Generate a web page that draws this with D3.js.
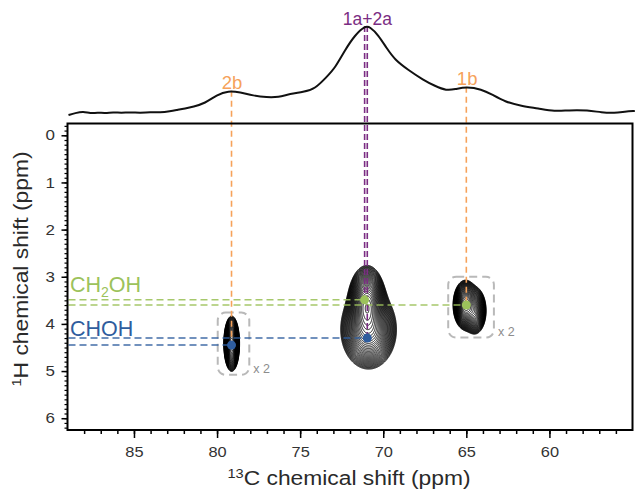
<!DOCTYPE html>
<html>
<head>
<meta charset="utf-8">
<script src="https://cdn.jsdelivr.net/npm/d3@7"></script>
<style>
  body { margin: 0; background: #fff; }
  svg { display: block; }
</style>
</head>
<body>
<svg id="chart" width="635" height="494"></svg>
<script>
// 13C projection on top: chemical shift (ppm) and relative intensity
const specC = [88.94, 88.54, 88.04, 87.63, 87.20, 86.73, 86.25, 85.77, 85.23, 84.63, 84.03, 83.43, 82.82, 82.42,
  81.92, 81.44, 80.72, 80.02, 79.32, 78.62, 77.82, 77.01, 76.31, 75.61, 74.81, 74.11, 73.40, 72.90, 72.30,
  71.70, 71.10, 70.80, 70.30, 69.79, 69.29, 68.49, 67.59, 66.89, 66.19, 65.69, 64.98, 64.08, 63.48, 62.68,
  61.68, 60.68, 59.67, 58.87, 57.67, 56.87, 56.07, 55.46, 54.86];
const specI = [0.000, 0.022, 0.040, 0.018, 0.028, 0.020, 0.032, 0.024, 0.032, 0.024, 0.032, 0.028, 0.042, 0.056,
  0.073, 0.093, 0.131, 0.225, 0.273, 0.255, 0.217, 0.199, 0.199, 0.239, 0.258, 0.292, 0.430, 0.528, 0.730,
  0.899, 1.000, 0.992, 0.899, 0.749, 0.618, 0.506, 0.393, 0.326, 0.273, 0.289, 0.318, 0.289, 0.233, 0.149,
  0.101, 0.075, 0.040, 0.054, 0.054, 0.028, 0.022, 0.037, 0.045];

// assigned sites in the projection
const siteNames = ["1a+2a", "2b", "1b"];
const siteC = [70.95, 79.1, 64.95];
const siteI = [1.0, 0.273, 0.318];

// cross peaks: 13C ppm, 1H ppm, proton group, site
const crossC = [71.12, 65.0, 70.96, 79.13];
const crossH = [3.49, 3.60, 4.30, 4.45];
const crossGroup = ["CH2OH", "CH2OH", "CHOH", "CHOH"];
const crossSite = ["1a+2a", "1b", "1a+2a", "2b"];

// 2D peak components used for the contour map
const peakC = [70.98, 70.88, 79.12, 65.05, 64.50];
const peakH = [3.58, 4.12, 4.42, 3.60, 3.72];
const peakWidthC = [0.42, 0.66, 0.17, 0.27, 0.28];
const peakWidthH = [0.30, 0.33, 0.21, 0.19, 0.20];
const peakAmp = [1.0, 0.6, 1.0, 1.0, 0.45];
const peakSpot = [0, 0, 1, 2, 2];

// magnified regions (x 2)
const boxC = [[79.96, 78.06], [66.09, 63.34]];
const boxH = [[3.76, 5.08], [3.00, 4.29]];
const boxLabel = ["x 2", "x 2"];

// axis ticks
const xMajor = [85, 80, 75, 70, 65, 60];
const xMinor = d3.range(56, 89);
const yMajor = [0, 1, 2, 3, 4, 5, 6];
const yMinor = d3.range(-2, 63).map(d => d / 10);

const colors = {
  "1a+2a": "#7b2d83", "2b": "#f6a25a", "1b": "#f6a25a",
  "CH2OH": "#9cc25b", "CHOH": "#2f5d9e"
};
const font = "'Liberation Sans', Arial, Helvetica, sans-serif";
const stretch = 1.17;

const svg = d3.select("#chart").attr("font-family", font);

// plot frame in pixels
const plot = { left: 67.5, right: 632.5, top: 123.5, bottom: 430 };

const x = d3.scaleLinear().domain([89, 55]).range([plot.left, plot.right]);
const y = d3.scaleLinear().domain([-0.25, 6.25]).range([plot.top, plot.bottom]);
const ys = d3.scaleLinear().domain([0, 1]).range([115, 26]);

// --- contour map ---
const contourG = svg.append("g").attr("class", "contours");
d3.range(3).forEach(s => {
  const idx = peakSpot.map((p, i) => p === s ? i : -1).filter(i => i >= 0);
  const cHi = d3.max(idx, i => peakC[i] + 4 * peakWidthC[i]);
  const cLo = d3.min(idx, i => peakC[i] - 4 * peakWidthC[i]);
  const hLo = d3.min(idx, i => peakH[i] - 4 * peakWidthH[i]);
  const hHi = d3.max(idx, i => peakH[i] + 4 * peakWidthH[i]);
  const dc = 0.015, dh = 0.008;
  const nx = Math.ceil((cHi - cLo) / dc), ny = Math.ceil((hHi - hLo) / dh);
  const vals = new Float64Array(nx * ny);
  for (let j = 0; j < ny; j++) {
    const h = hLo + (j + 0.5) * dh;
    for (let i = 0; i < nx; i++) {
      const c = cHi - (i + 0.5) * dc;
      let v = 0;
      idx.forEach(k => {
        const u = (c - peakC[k]) / peakWidthC[k], w = (h - peakH[k]) / peakWidthH[k];
        v += peakAmp[k] * Math.exp(-0.5 * (u * u + w * w));
      });
      vals[j * nx + i] = v;
    }
  }
  const vmax = d3.max(vals);
  const n = 32, lo = 0.02 * vmax, hi = 0.97 * vmax;
  const levels = d3.range(n).map(i => lo * Math.pow(hi / lo, i / (n - 1)));
  const proj = d3.geoTransform({
    point: function (gx, gy) { this.stream.point(x(cHi - gx * dc), y(hLo + gy * dh)); }
  });
  const path = d3.geoPath(proj);
  contourG.append("g")
    .selectAll("path")
    .data(d3.contours().size([nx, ny]).thresholds(levels)(vals))
    .join("path")
    .attr("d", path)
    .attr("fill", "none")
    .attr("stroke", "#000")
    .attr("stroke-width", 0.95);
});

// --- magnified boxes ---
svg.selectAll(".mag-box")
  .data(boxC)
  .join("rect")
  .attr("class", "mag-box")
  .attr("x", d => x(d[0]))
  .attr("width", d => x(d[1]) - x(d[0]))
  .attr("y", (d, i) => y(boxH[i][0]))
  .attr("height", (d, i) => y(boxH[i][1]) - y(boxH[i][0]))
  .attr("rx", 8)
  .attr("fill", "none")
  .attr("stroke", "#b9b9b9")
  .attr("stroke-width", 2)
  .attr("stroke-dasharray", "8,5");

svg.selectAll(".mag-label")
  .data(boxLabel)
  .join("text")
  .attr("class", "mag-label")
  .attr("x", (d, i) => x(boxC[i][1]) + 4)
  .attr("y", (d, i) => y(boxH[i][1]) - 1.5)
  .attr("font-size", 12.5)
  .attr("fill", "#8c8c8c")
  .text(d => d);

// --- horizontal dashed lines (1H) ---
svg.selectAll(".h-line")
  .data(crossC)
  .join("line")
  .attr("class", "h-line")
  .attr("x1", plot.left + 1)
  .attr("x2", d => x(d))
  .attr("y1", (d, i) => y(crossH[i]))
  .attr("y2", (d, i) => y(crossH[i]))
  .attr("stroke", (d, i) => colors[crossGroup[i]])
  .attr("stroke-opacity", 0.9)
  .attr("stroke-width", 1.5)
  .attr("stroke-dasharray", "7,4");

// --- vertical dashed lines (13C) ---
svg.selectAll(".v-line")
  .data(crossC)
  .join("line")
  .attr("class", "v-line")
  .attr("x1", d => x(d))
  .attr("x2", d => x(d))
  .attr("y1", (d, i) => ys(siteI[siteNames.indexOf(crossSite[i])]))
  .attr("y2", (d, i) => y(crossH[i]))
  .attr("stroke", (d, i) => colors[crossSite[i]])
  .attr("stroke-width", 1.6)
  .attr("stroke-dasharray", (d, i) => crossSite[i] === "1a+2a" ? "6,3" : "6,4");

// dots on cross peaks
svg.selectAll(".dot")
  .data(crossC)
  .join("circle")
  .attr("class", "dot")
  .attr("cx", d => x(d))
  .attr("cy", (d, i) => y(crossH[i]))
  .attr("r", 4.5)
  .attr("fill", (d, i) => colors[crossGroup[i]]);

// group labels
const groupNames = ["CH2OH", "CHOH"];
const groupOffset = [7.5, 2.5];
groupNames.forEach((g, gi) => {
  const hMin = d3.min(crossH.filter((h, i) => crossGroup[i] === g));
  const t = svg.append("text")
    .attr("x", plot.left + 2.5)
    .attr("y", y(hMin) - groupOffset[gi])
    .attr("font-size", 21.5)
    .attr("fill", colors[g]);
  if (g === "CH2OH") {
    t.append("tspan").text("CH");
    t.append("tspan").attr("font-size", 14).attr("dy", 5).text("2");
    t.append("tspan").attr("dy", -5).text("OH");
  } else {
    t.text(g);
  }
});

// --- 13C projection ---
const specPts = specC.map((c, i) => [c, specI[i]]);
svg.append("path")
  .datum(specPts)
  .attr("d", d3.line().x(d => x(d[0])).y(d => ys(d[1])).curve(d3.curveBasis))
  .attr("fill", "none")
  .attr("stroke", "#111")
  .attr("stroke-width", 2);

svg.selectAll(".site-label")
  .data(siteNames)
  .join("text")
  .attr("class", "site-label")
  .attr("x", (d, i) => x(siteC[i]))
  .attr("y", (d, i) => ys(siteI[i]) - 1.5)
  .attr("text-anchor", "middle")
  .attr("font-size", (d, i) => i === 0 ? 17.5 : 18.5)
  .attr("fill", d => colors[d])
  .text(d => d);

// --- axes ---
const gx = svg.append("g").attr("transform", `translate(0,${plot.bottom})`);
gx.append("g")
  .call(d3.axisBottom(x).tickValues(xMinor).tickSize(4).tickFormat(""))
  .call(g => g.select(".domain").remove())
  .call(g => g.selectAll(".tick line").attr("stroke-width", 1.5));
gx.append("g")
  .call(d3.axisBottom(x).tickValues(xMajor).tickSize(8).tickFormat(d3.format("d")))
  .attr("font-family", null).attr("font-size", null)
  .call(g => g.select(".domain").remove())
  .call(g => g.selectAll(".tick line").attr("stroke-width", 1.5))
  .call(g => g.selectAll(".tick text")
    .attr("y", 0).attr("dy", "0.71em")
    .attr("transform", `translate(0,17) scale(${stretch},1)`)
    .attr("font-size", 14).attr("fill", "#333"));

const gy = svg.append("g").attr("transform", `translate(${plot.left},0)`);
gy.append("g")
  .call(d3.axisLeft(y).tickValues(yMinor).tickSize(3).tickFormat(""))
  .call(g => g.select(".domain").remove())
  .call(g => g.selectAll(".tick line").attr("stroke-width", 1.2));
gy.append("g")
  .call(d3.axisLeft(y).tickValues(yMajor).tickSize(6).tickFormat(d3.format("d")))
  .attr("font-family", null).attr("font-size", null)
  .call(g => g.select(".domain").remove())
  .call(g => g.selectAll(".tick line").attr("stroke-width", 1.5))
  .call(g => g.selectAll(".tick text")
    .attr("x", 0)
    .attr("transform", `translate(-12.5,0) scale(${stretch},1)`)
    .attr("font-size", 14.5).attr("fill", "#333"));

// frame
svg.append("rect")
  .attr("x", plot.left).attr("y", plot.top)
  .attr("width", plot.right - plot.left).attr("height", plot.bottom - plot.top)
  .attr("fill", "none").attr("stroke", "#000").attr("stroke-width", 2);

// axis titles
const xt = svg.append("text")
  .attr("transform", `translate(349,485) scale(${stretch},1)`)
  .attr("text-anchor", "middle").attr("font-size", 19.5).attr("fill", "#2a2a2a");
xt.append("tspan").attr("font-size", 12.5).attr("dy", -7).text("13");
xt.append("tspan").attr("dy", 7).text("C chemical shift (ppm)");

const yt = svg.append("text")
  .attr("transform", `translate(28,269) rotate(-90) scale(${stretch},1)`)
  .attr("text-anchor", "middle").attr("font-size", 19.5).attr("fill", "#2a2a2a");
yt.append("tspan").attr("font-size", 12.5).attr("dy", -7).text("1");
yt.append("tspan").attr("dy", 7).text("H chemical shift (ppm)");
</script>
</body>
</html>
